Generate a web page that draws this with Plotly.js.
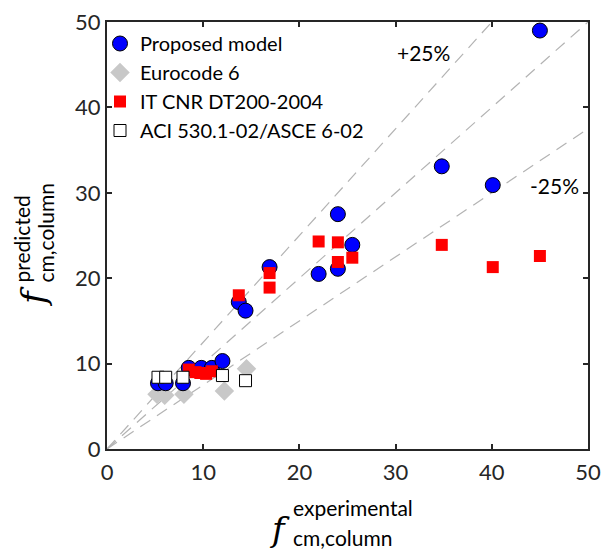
<!DOCTYPE html>
<html>
<head>
<meta charset="utf-8">
<script src="https://cdn.plot.ly/plotly-3.0.1.min.js"></script>
<style>html,body{margin:0;padding:0;background:#fff;}#chart{width:602px;height:554px;}</style>
</head>
<body>
<div id="chart"></div>
<script>
// Reference lines (ratio predicted / experimental)
var refX = [0, 50];
var refEqualY = [0, 50];
var refPlus25Y = [0, 62.5];
var refMinus25Y = [0, 37.5];

// Proposed model
var proposedX = [5.3, 6.1, 7.9, 8.5, 9.8, 10.9, 12.0, 13.7, 14.4, 16.9, 22.0, 24.0, 24.0, 25.5, 34.8, 40.1, 45.0];
var proposedY = [7.7, 7.7, 7.7, 9.5, 9.5, 9.5, 10.3, 17.2, 16.2, 21.3, 20.5, 21.1, 27.5, 23.9, 33.1, 30.9, 49.0];

// Eurocode 6
var euroX = [5.2, 6.0, 8.0, 12.2, 14.5];
var euroY = [6.4, 6.3, 6.4, 6.8, 9.4];

// IT CNR DT200-2004
var cnrX = [8.5, 9.2, 9.7, 10.3, 10.9, 13.7, 16.9, 16.9, 22.0, 24.0, 24.0, 25.5, 34.8, 40.1, 45.0];
var cnrY = [9.3, 9.0, 8.9, 8.8, 9.1, 18.0, 20.6, 18.9, 24.3, 24.2, 21.9, 22.4, 23.9, 21.3, 22.6];

// ACI 530.1-02/ASCE 6-02
var aciX = [5.3, 6.1, 7.9, 12.0, 14.4];
var aciY = [8.4, 8.4, 8.4, 8.6, 8.0];

var axisTicks = [0, 10, 20, 30, 40, 50];

var sans = 'Lato, "Liberation Sans", sans-serif';
var serif = '"DejaVu Serif", "Liberation Serif", serif';
var ink = '#262626';

var refLine = {color: '#b3b3b3', width: 1.2, dash: '12px,8px'};

var traces = [
  {x: refX, y: refPlus25Y, mode: 'lines', line: refLine, showlegend: false, hoverinfo: 'skip'},
  {x: refX, y: refEqualY, mode: 'lines', line: refLine, showlegend: false, hoverinfo: 'skip'},
  {x: refX, y: refMinus25Y, mode: 'lines', line: refLine, showlegend: false, hoverinfo: 'skip'},
  {x: euroX, y: euroY, mode: 'markers', name: 'Eurocode 6', legendrank: 2,
   marker: {symbol: 'diamond', size: 15, color: '#c8c8c8', line: {width: 0}}},
  {x: proposedX, y: proposedY, mode: 'markers', name: 'Proposed model', legendrank: 1,
   marker: {symbol: 'circle', size: 15, color: '#0000ff', line: {width: 1, color: '#000'}}},
  {x: cnrX, y: cnrY, mode: 'markers', name: 'IT CNR DT200-2004', legendrank: 3,
   marker: {symbol: 'square', size: 12, color: '#ff0000', line: {width: 0}}},
  {x: aciX, y: aciY, mode: 'markers', name: 'ACI 530.1-02/ASCE 6-02', legendrank: 4,
   marker: {symbol: 'square', size: 12, color: '#ffffff', line: {width: 1, color: '#000'}}}
];

function axis(standoff) {
  return {
    range: [0, 50], tickvals: axisTicks, ticktext: axisTicks.map(String),
    ticks: 'inside', ticklen: 5, tickwidth: 2, tickcolor: ink,
    showline: true, linewidth: 2, linecolor: ink, mirror: 'ticks',
    showgrid: false, zeroline: false, fixedrange: true,
    ticklabelstandoff: standoff,
    tickfont: {family: sans, size: 22, color: ink}
  };
}

var xa = axis(3);
var ya = axis(0);

var W = 481, H = 427, L = 107, T = 22;
function px(p) { return (p - L) / W; }
function py(p) { return (T + H - p) / H; }

var annotations = [
  {x: 32.9, y: 46.4, xref: 'x', yref: 'y', text: '+25%', showarrow: false,
   font: {family: sans, size: 21, color: '#000'}},
  {x: 46.5, y: 30.9, xref: 'x', yref: 'y', text: '-25%', showarrow: false,
   font: {family: sans, size: 21, color: '#000'}},
  // x-axis title
  {x: px(279), y: py(529), xref: 'paper', yref: 'paper', text: '<i>f</i>', showarrow: false,
   xanchor: 'center', yanchor: 'middle', font: {family: serif, size: 34, color: '#000'}},
  {x: px(291), y: py(508), xref: 'paper', yref: 'paper', text: 'experimental', showarrow: false,
   xanchor: 'left', yanchor: 'middle', font: {family: sans, size: 21, color: '#000'}},
  {x: px(291), y: py(537), xref: 'paper', yref: 'paper', text: 'cm,column', showarrow: false,
   xanchor: 'left', yanchor: 'middle', font: {family: sans, size: 21, color: '#000'}},
  // y-axis title
  {x: px(33), y: py(297), xref: 'paper', yref: 'paper', text: '<i>f</i>', showarrow: false,
   textangle: -90, xanchor: 'center', yanchor: 'middle', font: {family: serif, size: 34, color: '#000'}},
  {x: px(21), y: py(285), xref: 'paper', yref: 'paper', text: 'predicted', showarrow: false,
   textangle: -90, xanchor: 'center', yanchor: 'bottom', font: {family: sans, size: 21, color: '#000'}},
  {x: px(45), y: py(285), xref: 'paper', yref: 'paper', text: 'cm,column', showarrow: false,
   textangle: -90, xanchor: 'center', yanchor: 'bottom', font: {family: sans, size: 21, color: '#000'}}
];

var layout = {
  width: 602, height: 554,
  margin: {l: L, r: 602 - L - W, t: T, b: 554 - T - H, pad: 0},
  paper_bgcolor: '#fff', plot_bgcolor: '#fff',
  xaxis: xa, yaxis: ya,
  showlegend: true,
  legend: {x: px(100), y: py(24), xanchor: 'left', yanchor: 'top',
           bgcolor: 'rgba(0,0,0,0)', borderwidth: 0, tracegroupgap: 0,
           font: {family: sans, size: 20, color: '#000'}},
  annotations: annotations
};

Plotly.newPlot('chart', traces, layout, {displayModeBar: false, staticPlot: true});
</script>
</body>
</html>
